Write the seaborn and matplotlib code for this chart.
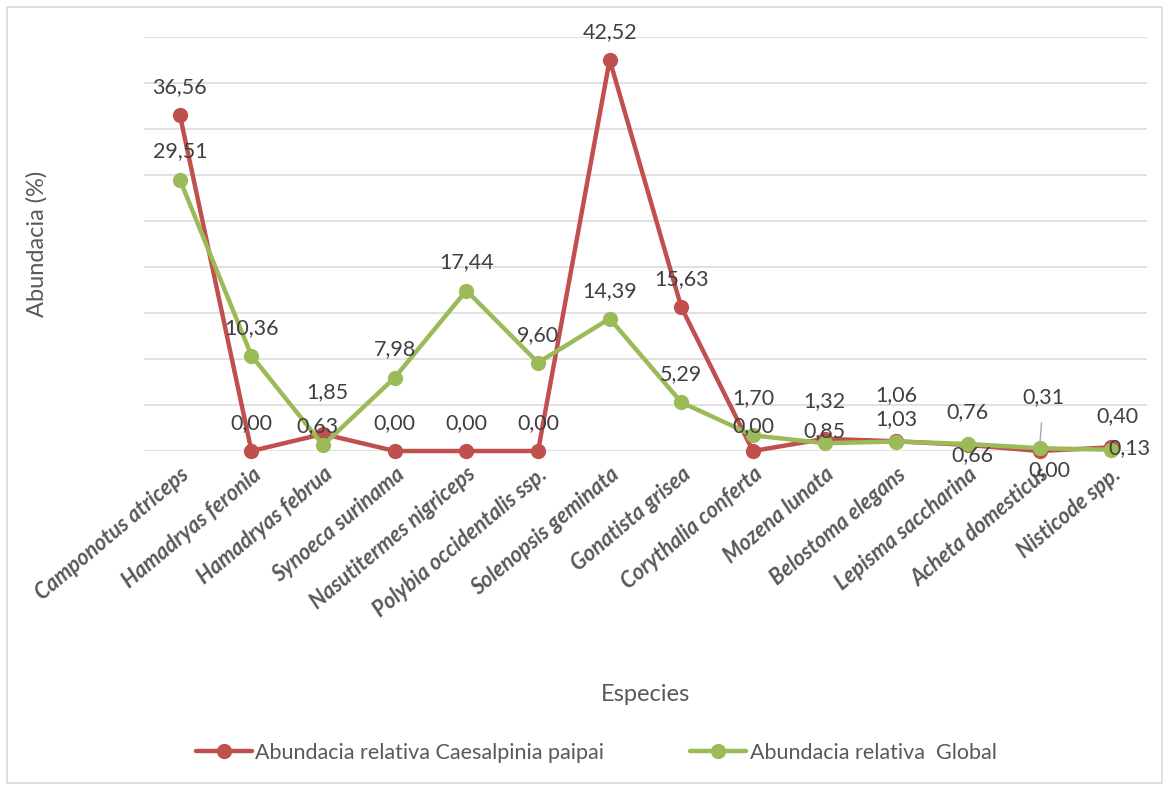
import matplotlib
matplotlib.use("Agg")
import matplotlib.pyplot as plt
from matplotlib.lines import Line2D
from matplotlib.patches import Rectangle
import seaborn as sns
import pandas as pd

especies = ["Camponotus atriceps", "Hamadryas feronia", "Hamadryas februa",
            "Synoeca surinama", "Nasutitermes nigriceps", "Polybia occidentalis ssp.",
            "Solenopsis geminata", "Gonatista grisea", "Corythalia conferta",
            "Mozena lunata", "Belostoma elegans", "Lepisma saccharina",
            "Acheta domesticus", "Nisticode spp."]
caesalpinia = [36.56, 0.00, 1.85, 0.00, 0.00, 0.00, 42.52, 15.63, 0.00, 1.32, 1.06, 0.66, 0.00, 0.40]
global_ = [29.51, 10.36, 0.63, 7.98, 17.44, 9.60, 14.39, 5.29, 1.70, 0.85, 1.03, 0.76, 0.31, 0.13]
series_names = ["Abundacia relativa Caesalpinia paipai", "Abundacia relativa  Global"]
colors = ["#C0504D", "#9BBB59"]

# label offsets in pixels (dx, dy)
off_red = [(0, 28), (0, 28), (4, 42), (0, 28), (0, 28), (0, 28), (0, 28), (0, 28),
           (0, 25), (0, 38), (0, 46), (4, -10), (10, -19), (6, 31)]
off_green = [(0, 28), (0, 28), (-6, 19), (0, 28), (0, 28), (0, 28), (0, 28), (0, 28),
             (0, 37), (0, 12), (0, 22), (0, 32), (4, 51), (18, 2)]
leader_green = [False] * 11 + [True, True, False]

sns.set_theme(style="white")
plt.rcParams["font.family"] = ["Lato", "DejaVu Sans"]

df = pd.DataFrame({
    "Especie": especies * 2,
    "Abundancia": caesalpinia + global_,
    "Serie": [series_names[0]] * len(especies) + [series_names[1]] * len(especies),
})

fig = plt.figure(figsize=(11.69, 7.87), dpi=100)
ax = fig.add_axes([144 / 1169, 1 - 451 / 787, (1147 - 144) / 1169, (451 - 37) / 787])

sns.lineplot(data=df, x="Especie", y="Abundancia", hue="Serie", palette=colors,
             sort=False, marker="o", markersize=11, markeredgewidth=0,
             linewidth=3.2, legend=False, ax=ax, clip_on=False)
for ln in ax.lines:
    ln.set_clip_on(False)

ax.set_xlim(-0.5, len(especies) - 0.5)
ax.set_ylim(0, 45)
ax.set_yticks(range(0, 46, 5))
ax.set_yticklabels([])
ax.tick_params(axis="y", length=0)
ax.grid(axis="y", color="#D9D9D9", linewidth=1.1)
ax.set_axisbelow(True)
for s in ax.spines.values():
    s.set_visible(False)

ax.set_xticks(range(len(especies)))
ax.set_xticklabels(especies, rotation=40, ha="right", rotation_mode="anchor",
                   fontsize=15.5, fontweight="bold", fontstyle="italic", color="#595959")
ax.tick_params(axis="x", length=0, pad=9)

ax.set_xlabel("Especies", fontsize=17, color="#595959", labelpad=46)
ax.set_ylabel("Abundacia (%)", fontsize=17, color="#595959", labelpad=66)

def fmt(v):
    return f"{v:.2f}".replace(".", ",")

for vals, offs in ((caesalpinia, off_red), (global_, off_green)):
    for i, v in enumerate(vals):
        lead = (vals is global_) and leader_green[i]
        ax.annotate(fmt(v), (i, v), xytext=offs[i], textcoords="offset pixels",
                    ha="center", va="center", fontsize=15.5, color="#404040",
                    annotation_clip=False,
                    arrowprops=dict(arrowstyle="-", color="#A6A6A6", lw=1,
                                    shrinkA=9, shrinkB=4) if lead else None)

handles = [Line2D([], [], color=c, lw=3.2, marker="o", markersize=11, markeredgewidth=0)
           for c in colors]
fig.legend(handles, series_names, loc="center", bbox_to_anchor=(0.51, 1 - 753 / 787),
           ncol=2, frameon=False, fontsize=15.5, handlelength=2.6, handletextpad=0.15,
           columnspacing=4.0, labelcolor="#595959")

fig.add_artist(Rectangle((7 / 1169, 4 / 787), 1155 / 1169, 776 / 787, transform=fig.transFigure,
                         fill=False, edgecolor="#D9D9D9", linewidth=1.2))

fig.savefig("out.png", dpi=100)
